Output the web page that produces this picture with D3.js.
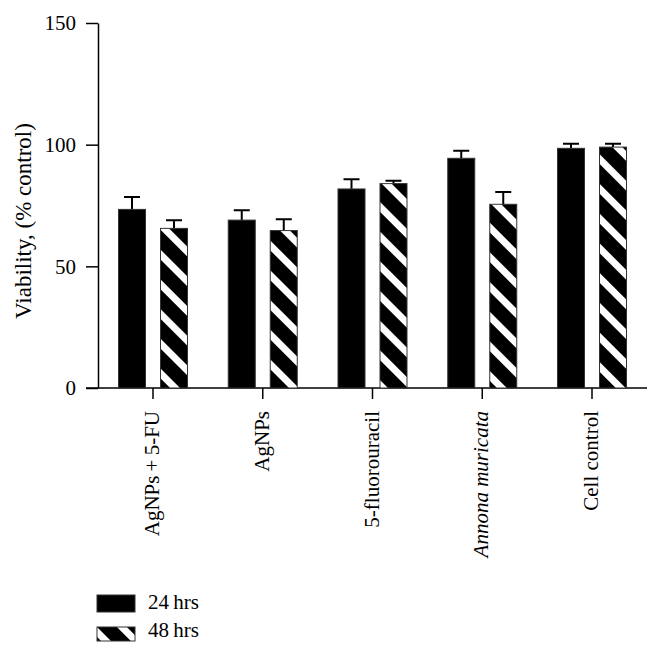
<!DOCTYPE html>
<html>
<head>
<meta charset="utf-8">
<script src="https://cdn.jsdelivr.net/npm/d3@7"></script>
<style>
  body { margin: 0; background: #fff; }
</style>
</head>
<body>
<div id="chart"></div>
<script>
const categories = ["AgNPs+5-FU", "AgNPs", "5-fluorouracil", "Annona muricata", "Cell control"];
const series = ["24hrs", "48hrs"];
const values24 = [73.4, 69.0, 81.8, 94.4, 98.5];
const values48 = [65.6, 64.7, 84.0, 75.5, 99.0];
const errors24 = [5.1, 4.0, 4.0, 3.1, 1.9];
const errors48 = [3.3, 4.6, 1.2, 5.0, 1.4];
const yTicks = [0, 50, 100, 150];

const W = 661, H = 655;
const FONT = "'Liberation Serif', 'DejaVu Serif', serif";
const margin = { top: 23, left: 98, right: 14, bottom: 267 };

const svg = d3.select("#chart").append("svg")
  .attr("width", W)
  .attr("height", H)
  .style("font-family", FONT);

// stripe pattern for 48 hrs
const defs = svg.append("defs");
const pat = defs.append("pattern")
  .attr("id", "hatch")
  .attr("patternUnits", "userSpaceOnUse")
  .attr("width", 21)
  .attr("height", 21)
  .attr("patternTransform", "rotate(45)");
pat.append("rect").attr("width", 21).attr("height", 21).attr("fill", "#000");
pat.append("rect").attr("width", 21).attr("height", 7).attr("fill", "#fff");

const x0 = d3.scaleLinear()
  .domain([0, categories.length - 1])
  .range([153, 592]);

const y = d3.scaleLinear()
  .domain([0, 150])
  .range([388, 23]);

const barW = 27, gap = 15;

// y axis
const yAxis = svg.append("g")
  .attr("transform", "translate(" + margin.left + ",0)")
  .call(d3.axisLeft(y).tickValues(yTicks).tickSize(12).tickPadding(10).tickSizeOuter(0));
yAxis.attr("font-family", null).attr("font-size", null);
yAxis.select(".domain").attr("stroke", "#000").attr("stroke-width", 1.5);
yAxis.selectAll(".tick line").attr("stroke-width", 1.5);
yAxis.selectAll(".tick text").style("font-size", "21px").style("font-family", FONT);

// x axis
svg.append("line")
  .attr("x1", 86).attr("x2", 647)
  .attr("y1", y(0)).attr("y2", y(0))
  .attr("stroke", "#000").attr("stroke-width", 1.5);

const groups = svg.selectAll(".grp")
  .data(categories)
  .enter().append("g")
  .attr("class", "grp");

groups.append("line")
  .attr("x1", (d, i) => x0(i)).attr("x2", (d, i) => x0(i))
  .attr("y1", y(0)).attr("y2", y(0) + 11)
  .attr("stroke", "#000").attr("stroke-width", 1.5);

groups.append("text")
  .attr("transform", (d, i) => "translate(" + (x0(i) + 6) + "," + (y(0) + 23) + ") rotate(-90)")
  .attr("text-anchor", "end")
  .style("font-size", "21px")
  .style("font-style", d => d == "Annona muricata" ? "italic" : "normal")
  .text(d => d.replace("+", "\u2009+\u2009"));

// bars
const bars = [];
categories.forEach((c, i) => {
  bars.push({ i: i, s: 0, v: values24[i], e: errors24[i] });
  bars.push({ i: i, s: 1, v: values48[i], e: errors48[i] });
});

function barX(d) {
  return d.s == 0 ? x0(d.i) - gap / 2 - barW : x0(d.i) + gap / 2;
}

// error bars (upper only)
svg.selectAll(".err")
  .data(bars)
  .enter().append("path")
  .attr("class", "err")
  .attr("d", d => {
    const cx = barX(d) + barW / 2;
    const top = y(d.v + d.e);
    return "M" + cx + "," + y(d.v) + "V" + top + "M" + (cx - 8) + "," + top + "H" + (cx + 8);
  })
  .attr("stroke", "#000")
  .attr("stroke-width", 2)
  .attr("fill", "none");

svg.selectAll(".bar")
  .data(bars)
  .enter().append("rect")
  .attr("class", "bar")
  .attr("x", barX)
  .attr("width", barW)
  .attr("y", d => y(d.v))
  .attr("height", d => y(0) - y(d.v))
  .attr("fill", d => d.s == 0 ? "#000" : "url(#hatch)")
  .attr("stroke", "#333")
  .attr("stroke-width", 1);

// legend
const legend = svg.selectAll(".leg")
  .data(series)
  .enter().append("g")
  .attr("class", "leg")
  .attr("transform", (d, i) => "translate(97," + (595 + i * 32) + ")");

legend.append("rect")
  .attr("width", 38)
  .attr("height", (d, i) => i == 0 ? 17 : 14)
  .attr("fill", (d, i) => i == 0 ? "#000" : "url(#hatch)")
  .attr("stroke", "#333");

legend.append("text")
  .attr("x", 51)
  .attr("y", (d, i) => i == 0 ? 14 : 10)
  .style("font-size", "21px")
  .text(d => d.replace("hrs", "\u2009hrs"));

// y label
svg.append("text")
  .attr("transform", "translate(31,221) rotate(-90)")
  .attr("text-anchor", "middle")
  .style("font-size", "23px")
  .text("Viability, (% control)");
</script>
</body>
</html>
